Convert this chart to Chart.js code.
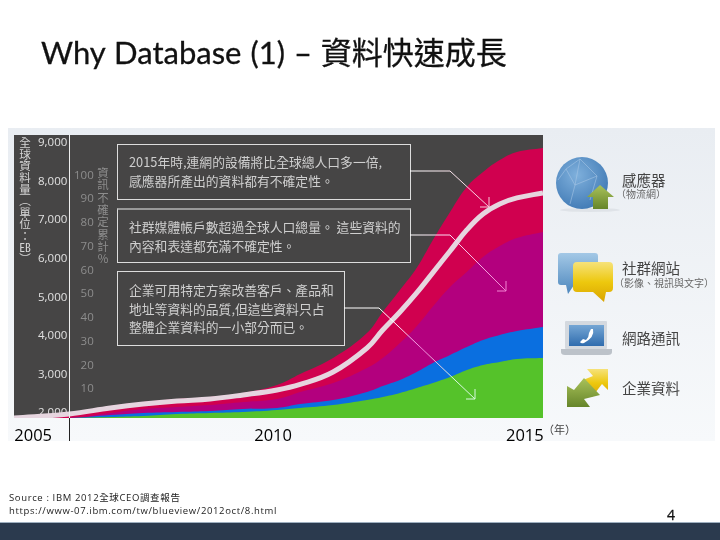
<!DOCTYPE html>
<html lang="zh-Hant">
<head>
<meta charset="utf-8">
<title>Why Database (1)</title>
<script src="https://cdn.jsdelivr.net/npm/chart.js@4"></script>
<style>
    html, body { margin: 0; padding: 0; background: #fff; }
    #slide { position: relative; width: 720px; height: 540px; overflow: hidden; font-family: "Noto Sans CJK TC", sans-serif; }
    #slide > * { position: absolute; }
    #panel { left: 8px; top: 128px; width: 707px; height: 313px; background: linear-gradient(#e9edf2, #f7f9fb); }
    #band { left: 0; top: 522px; width: 720px; height: 18px; background: #2b3a4e; border-top: 1px solid #9fb0c0; box-sizing: border-box; }
    #chart-wrap { left: 0; top: 0; width: 720px; height: 540px; }
    #title { left: 41px; top: 31px; font: 31px/42px "Lato", "Noto Sans CJK TC", sans-serif; -webkit-text-stroke: .3px #111; color: #111; white-space: nowrap; word-spacing: 1px; }
    #source { left: 9px; top: 491px; font: 9.5px/13px "Open Sans", "Noto Sans CJK TC", sans-serif; color: #222; letter-spacing: .63px; white-space: nowrap; }
    #page { left: 667px; top: 505px; font: 14px/20px "Open Sans", sans-serif; color: #111; -webkit-text-stroke: .3px #111; }
    .note { box-sizing: border-box; border: 1px solid #ddd; color: #cfcfcf; font-size: 12.8px; line-height: 18.5px; padding: 8px 0 0 11px; white-space: nowrap; }
    .vtext { writing-mode: vertical-rl; text-orientation: upright; white-space: nowrap; }
    .vtext b { font-weight: 400; text-combine-upright: all; }
    .big { font-size: 14.5px; line-height: 20px; color: #444; white-space: nowrap; }
    .small { font-size: 10px; line-height: 12px; color: #666; white-space: nowrap; }
</style>
</head>
<body>
<div id="slide">
    <div id="panel"></div>
    <div id="band"></div>
    <div id="chart-wrap"><canvas id="chart" width="720" height="540"></canvas></div>

    <div id="title">Why Database (1) – 資料快速成長</div>

    <div class="vtext" style="left:18px;top:137px;font-size:11.6px;line-height:14px;color:#d5d5d5">全球資料量（單位：<b>EB</b>）</div>
    <div class="vtext" style="left:96px;top:167px;font-size:11.5px;letter-spacing:.8px;line-height:14px;color:#8d8d8d">資訊不確定累計%</div>

    <div class="note" style="left:117px;top:144px;width:294px;height:56px">2015年時,連網的設備將比全球總人口多一倍,<br>感應器所產出的資料都有不確定性。</div>
    <div class="note" style="left:117px;top:208px;width:294px;height:55px;border-top:2px solid #999">社群媒體帳戶數超過全球人口總量。 這些資料的<br>內容和表達都充滿不確定性。</div>
    <div class="note" style="left:117px;top:271px;width:228px;height:75px;padding-top:9px">企業可用特定方案改善客戶、產品和<br>地址等資料的品質,但這些資料只占<br>整體企業資料的一小部分而已。</div>

    <svg width="720" height="540" style="left:0;top:0" fill="none">
        <defs>
            <linearGradient id="g1" gradientUnits="userSpaceOnUse" x1="410" y1="171" x2="490" y2="207"><stop offset="0" stop-color="#fff"/><stop offset="1" stop-color="#f6c6d8"/></linearGradient>
            <linearGradient id="g2" gradientUnits="userSpaceOnUse" x1="410" y1="235" x2="506" y2="291"><stop offset="0" stop-color="#fff"/><stop offset="1" stop-color="#f080d0"/></linearGradient>
            <linearGradient id="g3" gradientUnits="userSpaceOnUse" x1="344" y1="308" x2="475" y2="399"><stop offset=".3" stop-color="#fff"/><stop offset=".55" stop-color="#f080d8"/><stop offset=".8" stop-color="#d8f8e0"/></linearGradient>
            <radialGradient id="globe" cx=".4" cy=".35" r=".75"><stop offset="0" stop-color="#7fb0dc"/><stop offset="1" stop-color="#3c76b2"/></radialGradient>
            <linearGradient id="leaf" x1="0" y1="0" x2="0" y2="1"><stop offset="0" stop-color="#a9c25a"/><stop offset="1" stop-color="#66852a"/></linearGradient>
            <linearGradient id="sky" x1="0" y1="0" x2="0" y2="1"><stop offset="0" stop-color="#a3c8e6"/><stop offset="1" stop-color="#4d87bd"/></linearGradient>
            <linearGradient id="gold" x1="0" y1="0" x2="0" y2="1"><stop offset="0" stop-color="#f6e27a"/><stop offset=".5" stop-color="#edc80e"/><stop offset="1" stop-color="#d9a400"/></linearGradient>
            <linearGradient id="screen" x1="0" y1="0" x2="0" y2="1"><stop offset="0" stop-color="#75a6d4"/><stop offset="1" stop-color="#2f6cae"/></linearGradient>
        </defs>

        <!-- leader lines -->
        <path d="M410 171H450L489 207M480 207H489V197" stroke="url(#g1)"/>
        <path d="M410 235H450L506 291M497 291H506V281" stroke="url(#g2)"/>
        <path d="M344 308H379L475 399M466 399H475V389" stroke="url(#g3)"/>

        <!-- sensor icon -->
        <ellipse cx="590" cy="210" rx="30" ry="2" fill="#dfe3e8"/>
        <circle cx="582" cy="183" r="26" fill="url(#globe)"/>
        <path d="M566 169L580 159L597 176L575 185ZM580 159L575 185L570 204M597 176L590 200M558 180L566 169" stroke="#a8c8e6" stroke-width=".7" opacity=".8"/>
        <path d="M587 197L600 185L614 197H608V209H593V197Z" fill="url(#leaf)"/>

        <!-- social icon -->
        <path d="M561 253H595Q598 253 598 256V282Q598 285 595 285H574L568 294L566 285H561Q558 285 558 282V256Q558 253 561 253Z" fill="url(#sky)"/>
        <path d="M577 262H609Q613 262 613 266V288Q613 292 609 292H606L604 302L593 292H577Q573 292 573 288V266Q573 262 577 262Z" fill="url(#gold)"/>

        <!-- network icon -->
        <rect x="565" y="321" width="42" height="28" rx="1" fill="#d4d9df"/>
        <rect x="569" y="325" width="35" height="21" fill="url(#screen)"/>
        <path d="M561 349H612V352Q612 355 608 355H565Q561 355 561 352Z" fill="#bcc2c9"/>
        <path d="M593 329Q595 337 584 343Q581 344 580 342L583 339L586 340Q589 337 589 333L591 329Z" fill="#fff"/>

        <!-- enterprise icon -->
        <path d="M587 369H608V390L602 384L592 397L583 380L593 376Z" fill="url(#gold)"/>
        <path d="M567 386L574 390L584 378L600 395L584 399L590 407H567Z" fill="url(#leaf)"/>
    </svg>

    <div class="big" style="left:622px;top:170px">感應器</div>
    <div class="small" style="left:616px;top:188px">（物流網）</div>
    <div class="big" style="left:622px;top:258px">社群網站</div>
    <div class="small" style="left:614px;top:277px">（影像、視訊與文字）</div>
    <div class="big" style="left:622px;top:328px">網路通訊</div>
    <div class="big" style="left:622px;top:378px">企業資料</div>
    <div class="small" style="left:543px;top:423px;font-size:11px;color:#444">（年）</div>

    <div id="source">Source : IBM 2012全球CEO調查報告<br>https://www-07.ibm.com/tw/blueview/2012oct/8.html</div>
    <div id="page">4</div>
</div>

<script>
document.addEventListener('DOMContentLoaded', function() {
    // Values, EB on the left axis
    const years = [2004.61, 2005.73, 2006.57, 2007.24, 2007.93, 2008.6, 2009.27, 2009.96, 2010.43, 2011.1, 2011.79,
        2012.11, 2012.46, 2012.8, 2013.13, 2013.48, 2013.82, 2014.15, 2014.49, 2014.84, 2015.37];
    const sensors = [1870, 1974, 2182, 2285, 2363, 2415, 2519, 2726, 3011, 3426, 4074,
        4620, 5190, 5760, 6486, 7212, 7860, 8249, 8560, 8768, 8871];
    const social = [1870, 1870, 2000, 2104, 2156, 2207, 2285, 2363, 2545, 2778, 3167,
        3426, 3815, 4250, 4760, 5267, 5656, 6045, 6330, 6538, 6693];
    const network = [1870, 1870, 1948, 2000, 2026, 2052, 2104, 2130, 2233, 2337, 2545,
        2700, 2856, 3063, 3297, 3504, 3711, 3893, 4022, 4126, 4230];
    const enterprise = [1870, 1870, 1896, 1922, 1974, 2000, 2026, 2078, 2130, 2207, 2337,
        2415, 2519, 2648, 2778, 2933, 3115, 3245, 3323, 3400, 3426];
    const uncertainty = [1870, 1974, 2130, 2233, 2311, 2363, 2467, 2596, 2740, 3063, 3685,
        4152, 4619, 5112, 5640, 6200, 6745, 7160, 7419, 7575, 7705];

    const volumeTicks = [2000, 3000, 4000, 5000, 6000, 7000, 8000, 9000];
    const percentTicks = [10, 20, 30, 40, 50, 60, 70, 80, 90, 100];
    const yearTicks = [2005, 2009.88, 2015];
    const startMark = 2005.73;

    function points(values) {
        return values.map((v, i) => ({x: years[i], y: v}));
    }

    function area(label, values, color, order) {
        return {
            label: label,
            data: points(values),
            borderWidth: 0,
            backgroundColor: color,
            fill: 'origin',
            pointRadius: 0,
            tension: 0.4,
            order: order
        };
    }

    // Dark plot background, and the mark that runs down from the start of the curve
    const backdrop = {
        id: 'backdrop',
        beforeDraw(chart) {
            const {ctx, chartArea} = chart;
            ctx.save();
            ctx.fillStyle = '#464545';
            ctx.fillRect(chartArea.left, chartArea.top, chartArea.width, chartArea.height);
            ctx.restore();
        },
        afterDraw(chart) {
            const {ctx, chartArea} = chart;
            const x = Math.round(chart.scales.x.getPixelForValue(startMark)) + 0.5;
            ctx.save();
            ctx.beginPath();
            ctx.moveTo(x, chartArea.top);
            ctx.lineTo(x, chartArea.bottom);
            ctx.strokeStyle = '#eee';
            ctx.stroke();
            ctx.beginPath();
            ctx.moveTo(x, chartArea.bottom);
            ctx.lineTo(x, chartArea.bottom + 23);
            ctx.strokeStyle = '#222';
            ctx.stroke();
            ctx.restore();
        }
    };

    new Chart(document.getElementById('chart').getContext('2d'), {
        type: 'line',
        plugins: [backdrop],
        data: {
            datasets: [
                {
                    label: '不確定性',
                    data: points(uncertainty),
                    borderColor: '#e6d5df',
                    borderWidth: 5,
                    fill: false,
                    pointRadius: 0,
                    tension: 0.4,
                    order: 0
                },
                area('企業資料', enterprise, '#55c22a', 1),
                area('網路通訊', network, '#0a6fe0', 2),
                area('社群網站', social, '#b3007e', 3),
                area('感應器', sensors, '#d0004f', 4)
            ]
        },
        options: {
            responsive: false,
            animation: false,
            layout: {padding: {left: 14, right: 177, top: 135, bottom: 92}},
            plugins: {legend: {display: false}, tooltip: {enabled: false}},
            scales: {
                x: {
                    type: 'linear',
                    min: 2004.61,
                    max: 2015.37,
                    grid: {display: false},
                    border: {display: false},
                    afterFit(scale) { scale.height = 30; },
                    afterBuildTicks(scale) { scale.ticks = yearTicks.map(v => ({value: v})); },
                    ticks: {
                        autoSkip: false,
                        maxRotation: 0,
                        padding: 0,
                        color: '#000',
                        font: {family: '"Open Sans"', size: 16.5},
                        callback: v => String(Math.round(v))
                    }
                },
                y: {
                    position: 'left',
                    min: 1870,
                    max: 9207,
                    grid: {display: false},
                    border: {display: false},
                    afterFit(scale) { scale.width = 0; },
                    afterBuildTicks(scale) { scale.ticks = volumeTicks.map(v => ({value: v})); },
                    ticks: {
                        mirror: true,
                        crossAlign: 'far',
                        padding: 24,
                        color: '#e0e0e0',
                        font: {family: '"Open Sans"', size: 11.5},
                        callback: v => v.toLocaleString('en-US')
                    }
                },
                percent: {
                    position: 'left',
                    min: -2.2,
                    max: 117,
                    grid: {display: false},
                    border: {display: false},
                    afterFit(scale) { scale.width = 0; },
                    afterBuildTicks(scale) { scale.ticks = percentTicks.map(v => ({value: v})); },
                    ticks: {
                        mirror: true,
                        crossAlign: 'far',
                        padding: 60,
                        color: '#8d8d8d',
                        font: {family: '"Open Sans"', size: 11.5}
                    }
                }
            }
        }
    });
});
</script>
</body>
</html>
